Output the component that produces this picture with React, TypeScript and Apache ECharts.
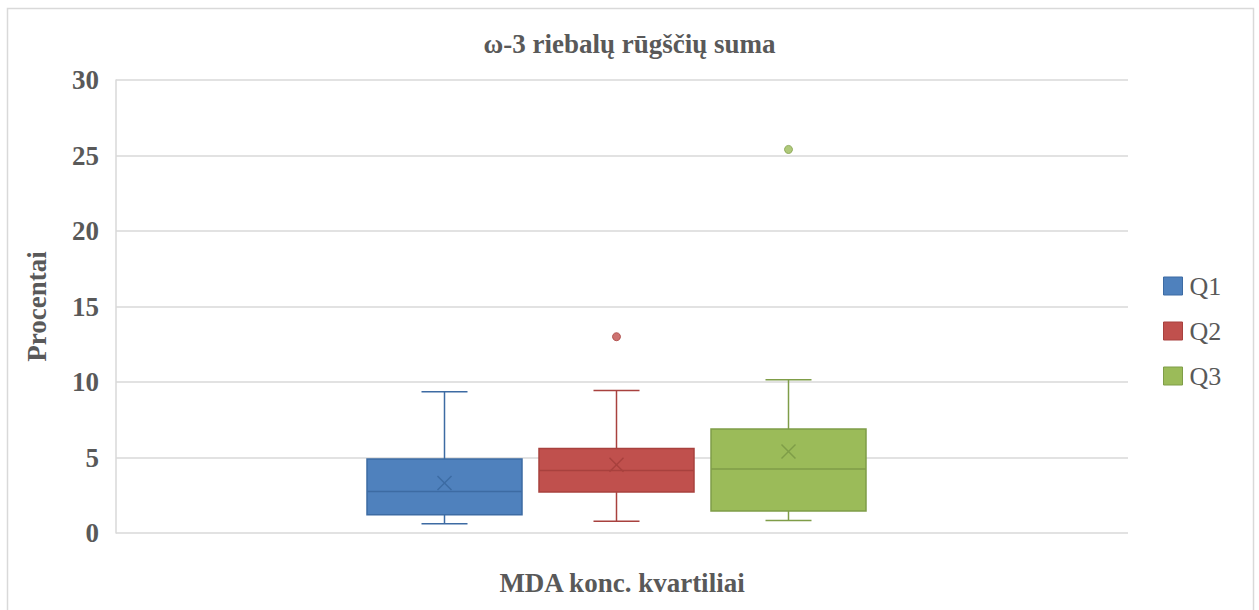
import React, { useEffect, useRef } from "react";
import * as echarts from "echarts";

// ---- data ----
const categories = [""];
const seriesNames = ["Q1", "Q2", "Q3"];
// [min, Q1, median, Q3, max]
const boxQ1 = [0.62, 1.21, 2.75, 4.9, 9.35];
const boxQ2 = [0.77, 2.71, 4.14, 5.6, 9.44];
const boxQ3 = [0.83, 1.46, 4.24, 6.88, 10.15];
const means = [3.31, 4.52, 5.4];
const outliersQ1: number[] = [];
const outliersQ2 = [13.0];
const outliersQ3 = [25.4];
const yTicks = [0, 5, 10, 15, 20, 25, 30];

const boxes = [boxQ1, boxQ2, boxQ3];
const outliers = [outliersQ1, outliersQ2, outliersQ3];

// ---- styles ----
const FILLS = ["#4F81BD", "#C0504D", "#9BBB59"];
const STROKES = ["#3D6BA3", "#A8413E", "#7F9D48"];
const OFFSETS = [-177.5, -5.5, 166.5];
const BOX_W = 155;
const CAP_W = 46;
const X_HALF = 7;
const FONT = "'Liberation Serif', 'Times New Roman', serif";
const TEXT = "#595959";
const GRID = "#D9D9D9";

export default function App() {
  const ref = useRef<HTMLDivElement>(null);

  useEffect(() => {
    if (!ref.current) return;
    const chart = echarts.init(ref.current, undefined, { renderer: "svg" });

    const boxSeries = seriesNames.map((name, i) => ({
      name,
      type: "custom",
      itemStyle: { color: FILLS[i], borderColor: STROKES[i] },
      data: [[0, ...boxes[i], means[i]]],
      renderItem: (params: any, api: any) => {
        const base = api.coord([api.value(0), 0]);
        const cx = base[0] + OFFSETS[i];
        const yv = (k: number) => api.coord([api.value(0), api.value(k)])[1];
        const yMin = yv(1);
        const yQ1 = yv(2);
        const yMed = yv(3);
        const yQ3 = yv(4);
        const yMax = yv(5);
        const yMean = yv(6);
        const ls = { stroke: STROKES[i], lineWidth: 1.5 };
        return {
          type: "group",
          children: [
            { type: "line", shape: { x1: cx, y1: yMax, x2: cx, y2: yQ3 }, style: ls },
            { type: "line", shape: { x1: cx, y1: yQ1, x2: cx, y2: yMin }, style: ls },
            { type: "line", shape: { x1: cx - CAP_W / 2, y1: yMax, x2: cx + CAP_W / 2, y2: yMax }, style: ls },
            { type: "line", shape: { x1: cx - CAP_W / 2, y1: yMin, x2: cx + CAP_W / 2, y2: yMin }, style: ls },
            {
              type: "rect",
              shape: { x: cx - BOX_W / 2, y: yQ3, width: BOX_W, height: yQ1 - yQ3 },
              style: { fill: FILLS[i], stroke: STROKES[i], lineWidth: 1.5 },
            },
            { type: "line", shape: { x1: cx - BOX_W / 2, y1: yMed, x2: cx + BOX_W / 2, y2: yMed }, style: ls },
            { type: "line", shape: { x1: cx - X_HALF, y1: yMean - X_HALF, x2: cx + X_HALF, y2: yMean + X_HALF }, style: ls },
            { type: "line", shape: { x1: cx - X_HALF, y1: yMean + X_HALF, x2: cx + X_HALF, y2: yMean - X_HALF }, style: ls },
          ],
        };
      },
      z: 3,
    }));

    const outlierSeries = seriesNames.map((name, i) => ({
      name,
      type: "scatter",
      symbol: "circle",
      symbolSize: 8,
      symbolOffset: [OFFSETS[i], 0],
      itemStyle: { color: FILLS[i], borderColor: STROKES[i], borderWidth: 1 },
      data: outliers[i].map((v) => [0, v]),
      z: 4,
    }));

    chart.setOption({
      animation: false,
      backgroundColor: "#ffffff",
      textStyle: { fontFamily: FONT },
      title: {
        text: "ω-3 riebalų rūgščių suma",
        left: "center",
        top: 25,
        textStyle: { fontFamily: FONT, fontSize: 27, fontWeight: "bold", color: TEXT },
      },
      legend: {
        orient: "vertical",
        left: 1163,
        top: 273,
        padding: 0,
        itemWidth: 19,
        itemHeight: 18,
        itemGap: 19,
        icon: "rect",
        textStyle: { fontFamily: FONT, fontSize: 26, color: TEXT, padding: [0, 0, 0, 2] },
        data: seriesNames.map((n, i) => ({
          name: n,
          itemStyle: { color: FILLS[i], borderColor: STROKES[i], borderWidth: 1 },
        })),
      },
      grid: { left: 116, right: 131, top: 80, bottom: 77 },
      xAxis: {
        type: "category",
        data: categories,
        name: "MDA konc. kvartiliai",
        nameLocation: "middle",
        nameGap: 36,
        nameTextStyle: { fontFamily: FONT, fontSize: 27, fontWeight: "bold", color: TEXT },
        axisLine: { show: false },
        axisTick: { show: false },
        axisLabel: { show: false },
        splitLine: { show: false },
      },
      yAxis: {
        type: "value",
        min: yTicks[0],
        max: yTicks[yTicks.length - 1],
        interval: yTicks[1] - yTicks[0],
        name: "Procentai",
        nameLocation: "middle",
        nameRotate: 90,
        nameGap: 66,
        nameTextStyle: { fontFamily: FONT, fontSize: 27, fontWeight: "bold", color: TEXT },
        axisLine: { show: true, lineStyle: { color: GRID, width: 1.5 } },
        axisTick: { show: false },
        axisLabel: { fontFamily: FONT, fontSize: 27, fontWeight: "bold", color: TEXT, margin: 17 },
        splitLine: { show: true, lineStyle: { color: GRID, width: 1.5 } },
      },
      graphic: [
        {
          type: "rect",
          silent: true,
          shape: { x: 7.5, y: 8.5, width: 1246, height: 700 },
          style: { fill: "none", stroke: GRID, lineWidth: 1.5 },
        },
      ],
      series: [...boxSeries, ...outlierSeries],
    });

    return () => chart.dispose();
  }, []);

  return (
    <div
      ref={ref}
      style={{ position: "fixed", left: 0, top: 0, width: 1259, height: 610 }}
    />
  );
}
